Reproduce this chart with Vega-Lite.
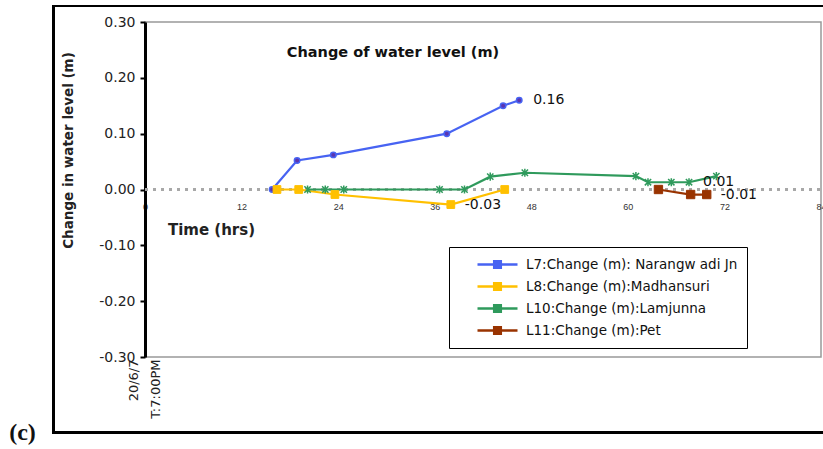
{
  "$schema": "https://vega.github.io/schema/vega-lite/v6.json",
  "width": 676,
  "height": 335,
  "autosize": {"type": "none"},
  "padding": {"left": 145, "top": 22, "right": 2, "bottom": 92},
  "background": "white",
  "title": {"text": "Change of water level (m)", "font": "DejaVu Sans", "fontSize": 14.5, "fontWeight": "bold", "color": "#111", "anchor": "middle", "dx": -90, "dy": 59},
  "config": {
    "view": {"stroke": "#999", "strokeWidth": 1.5}
  },
  "data": {
    "values": [
      {"series": "L7:Change (m): Narangw adi Jn", "t": 15.8, "v": 0.0},
      {"series": "L7:Change (m): Narangw adi Jn", "t": 18.9, "v": 0.052},
      {"series": "L7:Change (m): Narangw adi Jn", "t": 23.4, "v": 0.062},
      {"series": "L7:Change (m): Narangw adi Jn", "t": 37.5, "v": 0.10},
      {"series": "L7:Change (m): Narangw adi Jn", "t": 44.5, "v": 0.15},
      {"series": "L7:Change (m): Narangw adi Jn", "t": 46.5, "v": 0.16, "label": "0.16"},
      {"series": "L8:Change (m):Madhansuri", "t": 16.4, "v": 0.0},
      {"series": "L8:Change (m):Madhansuri", "t": 19.1, "v": 0.0},
      {"series": "L8:Change (m):Madhansuri", "t": 23.6, "v": -0.009},
      {"series": "L8:Change (m):Madhansuri", "t": 38.0, "v": -0.027, "label": "-0.03"},
      {"series": "L8:Change (m):Madhansuri", "t": 44.7, "v": 0.0},
      {"series": "L10:Change (m):Lamjunna", "t": 20.2, "v": 0.0},
      {"series": "L10:Change (m):Lamjunna", "t": 22.4, "v": 0.0},
      {"series": "L10:Change (m):Lamjunna", "t": 24.7, "v": 0.0},
      {"series": "L10:Change (m):Lamjunna", "t": 36.6, "v": 0.0},
      {"series": "L10:Change (m):Lamjunna", "t": 39.7, "v": 0.0},
      {"series": "L10:Change (m):Lamjunna", "t": 42.9, "v": 0.023},
      {"series": "L10:Change (m):Lamjunna", "t": 47.2, "v": 0.03},
      {"series": "L10:Change (m):Lamjunna", "t": 61.0, "v": 0.024},
      {"series": "L10:Change (m):Lamjunna", "t": 62.5, "v": 0.013},
      {"series": "L10:Change (m):Lamjunna", "t": 65.4, "v": 0.013},
      {"series": "L10:Change (m):Lamjunna", "t": 67.6, "v": 0.013, "label": "0.01"},
      {"series": "L10:Change (m):Lamjunna", "t": 71.0, "v": 0.024},
      {"series": "L11:Change (m):Pet", "t": 63.8, "v": 0.0},
      {"series": "L11:Change (m):Pet", "t": 67.8, "v": -0.009},
      {"series": "L11:Change (m):Pet", "t": 69.8, "v": -0.009, "label": "-0.01"}
    ]
  },
  "resolve": {"axis": {"x": "independent"}},
  "layer": [
    {
      "mark": {"type": "rule", "color": "#a8a8a8", "strokeWidth": 2.5, "strokeDash": [3, 5]},
      "encoding": {
        "x": {"datum": 0, "type": "quantitative", "scale": {"domain": [0, 84], "nice": false},
          "axis": {"orient": "bottom", "values": [0], "labelExpr": "['20/6/7', 'T:7:00PM']", "labelAngle": 270, "labelAlign": "right", "labelBaseline": "middle", "labelLineHeight": 22, "labelOffset": -12, "labelFont": "DejaVu Sans", "labelFontSize": 13, "labelColor": "#222", "labelPadding": 2, "domain": false, "ticks": false, "grid": false, "labelFlush": false,
            "title": "(c)", "titleFont": "Liberation Serif", "titleFontSize": 24, "titleFontWeight": "bold", "titleColor": "#111", "titleX": -123, "titleY": 75, "titleAlign": "center", "titleBaseline": "middle", "titleAngle": 0}},
        "x2": {"datum": 84},
        "y": {"datum": 0, "type": "quantitative", "scale": {"domain": [-0.3, 0.3], "nice": false},
          "axis": {
            "domainColor": "black", "domainWidth": 3, "tickColor": "black", "tickWidth": 2, "tickSize": 5,
            "values": [-0.3, -0.2, -0.1, 0, 0.1, 0.2, 0.3],
            "labelExpr": "replace(format(datum.value, '.2f'), '\u2212', '-')",
            "labelFont": "DejaVu Sans", "labelFontSize": 14, "labelColor": "#222", "labelPadding": 5,
            "grid": false,
            "title": "Change in water level (m)",
            "titleFont": "DejaVu Sans", "titleFontSize": 13.5, "titleFontWeight": "bold", "titleColor": "#222",
            "titleX": -77, "titleY": 128, "titleAlign": "center", "titleBaseline": "middle", "titleAngle": -90
          }}
      }
    },
    {
      "mark": {"type": "line", "strokeWidth": 2.2},
      "encoding": {
        "x": {"field": "t", "type": "quantitative", "scale": {"domain": [0, 84], "nice": false},
          "axis": {"orient": "bottom", "offset": -167, "values": [0, 12, 24, 36, 48, 60, 72, 84], "domain": false, "ticks": false, "grid": false, "labelFont": "Liberation Sans", "labelFontSize": 9, "labelColor": "#333", "labelPadding": 12, "labelFlush": false, "labelOverlap": false,
            "title": "Time (hrs)", "titleFont": "DejaVu Sans", "titleFontSize": 15, "titleFontWeight": "bold", "titleColor": "#222", "titleX": 66, "titleY": 39, "titleAlign": "center", "titleBaseline": "middle"}},
        "y": {"field": "v", "type": "quantitative", "scale": {"domain": [-0.3, 0.3], "nice": false}, "title": "Change in water level (m)"},
        "color": {"field": "series", "type": "nominal",
          "scale": {"domain": ["L7:Change (m): Narangw adi Jn", "L8:Change (m):Madhansuri", "L10:Change (m):Lamjunna", "L11:Change (m):Pet"], "range": ["#4763f2", "#ffc000", "#2f9a5c", "#993300"]},
          "legend": {"orient": "none", "legendX": 304, "legendY": 225, "title": null, "strokeColor": "black", "padding": 9, "labelFont": "DejaVu Sans", "labelFontSize": 13.5, "labelColor": "#111", "labelLimit": 400,
            "symbolType": "M-1,0H1 M-0.16,-0.16H0.16V0.16H-0.16Z M-0.06,-0.06H0.06V0.06H-0.06Z", "symbolSize": 1600, "symbolStrokeWidth": 2.7, "symbolOpacity": 1,
            "clipHeight": 17, "rowPadding": 5, "labelOffset": 7, "symbolOffset": 18}}
      }
    },
    {
      "transform": [{"filter": "datum.series == 'L7:Change (m): Narangw adi Jn'"}],
      "mark": {"type": "point", "shape": "circle", "filled": true, "fill": "#5a35b0", "stroke": "#4763f2", "strokeWidth": 1.5, "size": 30, "opacity": 1},
      "encoding": {
        "x": {"field": "t", "type": "quantitative", "scale": {"domain": [0, 84], "nice": false}, "axis": null},
        "y": {"field": "v", "type": "quantitative", "scale": {"domain": [-0.3, 0.3], "nice": false}, "title": "Change in water level (m)"}
      }
    },
    {
      "transform": [{"filter": "datum.series == 'L8:Change (m):Madhansuri'"}],
      "mark": {"type": "point", "shape": "square", "filled": true, "fill": "#ffc000", "stroke": "#ffc000", "strokeWidth": 1, "size": 60, "opacity": 1},
      "encoding": {
        "x": {"field": "t", "type": "quantitative", "scale": {"domain": [0, 84], "nice": false}, "axis": null},
        "y": {"field": "v", "type": "quantitative", "scale": {"domain": [-0.3, 0.3], "nice": false}, "title": "Change in water level (m)"}
      }
    },
    {
      "transform": [{"filter": "datum.series == 'L10:Change (m):Lamjunna'"}],
      "mark": {"type": "point", "shape": "M-1,-1L1,1M-1,1L1,-1M0,-1.3V1.3", "filled": false, "stroke": "#2f9a5c", "strokeWidth": 1.5, "size": 40, "opacity": 1},
      "encoding": {
        "x": {"field": "t", "type": "quantitative", "scale": {"domain": [0, 84], "nice": false}, "axis": null},
        "y": {"field": "v", "type": "quantitative", "scale": {"domain": [-0.3, 0.3], "nice": false}, "title": "Change in water level (m)"}
      }
    },
    {
      "transform": [{"filter": "datum.series == 'L11:Change (m):Pet'"}],
      "mark": {"type": "point", "shape": "square", "filled": true, "fill": "#993300", "stroke": "#993300", "strokeWidth": 1, "size": 70, "opacity": 1},
      "encoding": {
        "x": {"field": "t", "type": "quantitative", "scale": {"domain": [0, 84], "nice": false}, "axis": null},
        "y": {"field": "v", "type": "quantitative", "scale": {"domain": [-0.3, 0.3], "nice": false}, "title": "Change in water level (m)"}
      }
    },
    {
      "transform": [{"filter": "isValid(datum.label)"}],
      "mark": {"type": "text", "align": "left", "baseline": "middle", "dx": 14, "font": "DejaVu Sans", "fontSize": 14, "color": "#111"},
      "encoding": {
        "x": {"field": "t", "type": "quantitative", "scale": {"domain": [0, 84], "nice": false}, "axis": null},
        "y": {"field": "v", "type": "quantitative", "scale": {"domain": [-0.3, 0.3], "nice": false}, "title": "Change in water level (m)"},
        "text": {"field": "label"}
      }
    },
    {
      "mark": {"type": "rect", "filled": false, "stroke": "black", "strokeWidth": 2, "clip": false},
      "encoding": {
        "x": {"datum": -11.4, "type": "quantitative", "scale": {"domain": [0, 84], "nice": false}, "axis": null},
        "x2": {"datum": 86},
        "y": {"datum": 0.3286, "type": "quantitative", "scale": {"domain": [-0.3, 0.3], "nice": false}, "title": "Change in water level (m)"},
        "y2": {"datum": -0.4357}
      }
    }
  ]
}
